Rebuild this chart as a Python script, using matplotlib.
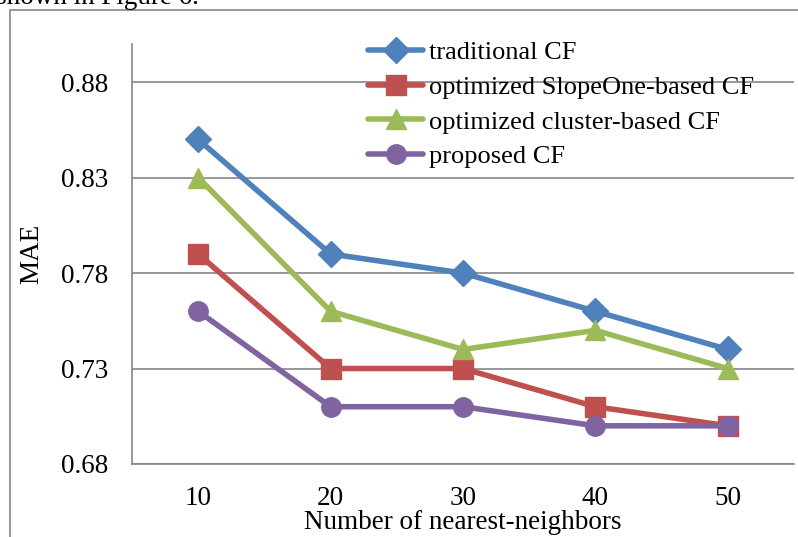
import matplotlib
matplotlib.use("Agg")
import matplotlib.pyplot as plt
from matplotlib.patches import Rectangle

neighbors = ["10", "20", "30", "40", "50"]
traditional = [0.85, 0.79, 0.78, 0.76, 0.74]
slopeone = [0.79, 0.73, 0.73, 0.71, 0.70]
cluster = [0.83, 0.76, 0.74, 0.75, 0.73]
proposed = [0.76, 0.71, 0.71, 0.70, 0.70]
yticks = [0.68, 0.73, 0.78, 0.83, 0.88]

plt.rcParams["font.family"] = ["Liberation Serif", "DejaVu Serif"]

W, H = 798, 537
fig = plt.figure(figsize=(W / 100, H / 100), dpi=100)

# axes box in pixels: left 132, right 794, top 44, bottom 464
ax = fig.add_axes([132 / W, 1 - 464 / H, (794 - 132) / W, (464 - 44) / H])

x = range(len(neighbors))
series = [
    (traditional, "traditional CF", "#4F81BD", "D", 13),
    (slopeone, "optimized SlopeOne-based CF", "#C0504D", "s", 14),
    (cluster, "optimized cluster-based CF", "#9BBB59", "^", 15),
    (proposed, "proposed CF", "#8064A2", "o", 14),
]
for vals, name, col, mk, ms in series:
    ax.plot(x, vals, color=col, lw=4.0, marker=mk, markersize=ms,
            markerfacecolor=col, markeredgecolor=col, label=name,
            solid_capstyle="round", zorder=3)

ax.set_xlim(-0.5, len(neighbors) - 0.5)
ax.set_ylim(0.68, 0.90)
ax.set_xticks(list(x))
ax.set_xticklabels(neighbors)
ax.set_yticks(yticks)
ax.set_yticklabels([f"{v:.2f}" for v in yticks])
ax.tick_params(length=0, labelsize=19.5)
ax.tick_params(axis="y", pad=17)
ax.tick_params(axis="x", pad=16)
ax.grid(axis="y", color="#868686", lw=1.2)
ax.set_axisbelow(True)
for s in ["top", "right"]:
    ax.spines[s].set_visible(False)
for s in ["left", "bottom"]:
    ax.spines[s].set_color("#868686")
    ax.spines[s].set_linewidth(1.2)

ax.set_ylabel("MAE", fontsize=19.5, labelpad=12)
ax.set_xlabel("Number of nearest-neighbors", fontsize=19.5, labelpad=-1)

leg = ax.legend(loc="upper left",
                bbox_to_anchor=((368 - 132) / (794 - 132), 1 + 3 / 420),
                frameon=False, fontsize=19, handlelength=2.1,
                handletextpad=0.2, labelspacing=0.42, borderaxespad=0.0,
                borderpad=0.0)

# outer chart frame
fig.patches.append(Rectangle((10 / W, -0.1), 1.2, 1 - 10 / H + 0.1,
                             transform=fig.transFigure, fill=False,
                             edgecolor="#868686", lw=1.2))
fig.text(-4 / W, 1 - 4 / H, "shown in Figure 6.", fontsize=19.5,
         va="baseline", ha="left")

fig.savefig("out.png", dpi=100)
